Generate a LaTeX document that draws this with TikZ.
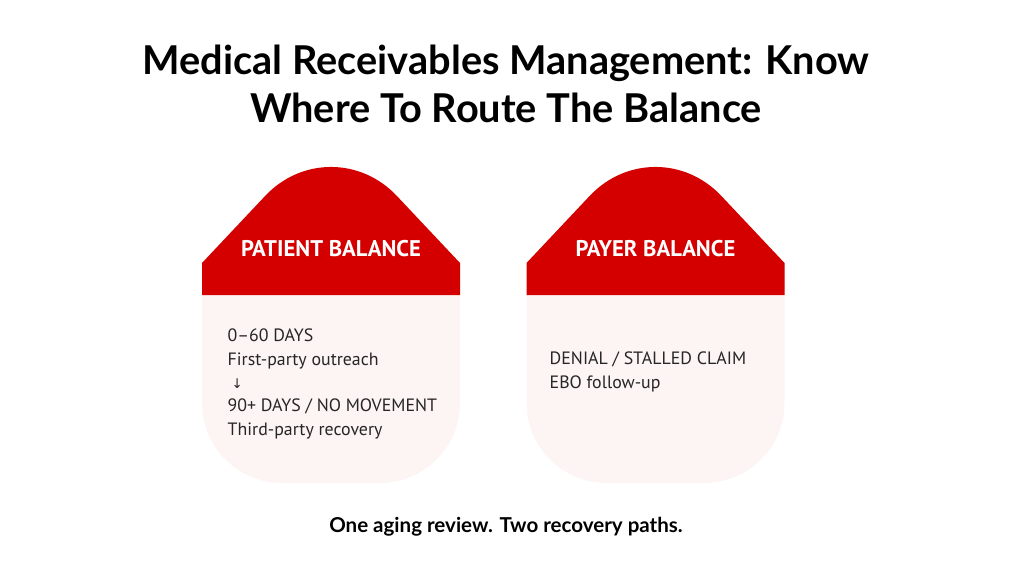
\documentclass[tikz,border=0pt]{standalone}
\usepackage{fontspec}
\setmainfont{PT Sans}
\newfontfamily\titlefont{Lato}
\definecolor{hred}{HTML}{D40000}
\definecolor{bodyc}{HTML}{FDF5F3}
\begin{document}
\begin{tikzpicture}[x=0.75pt,y=-0.75pt,
  head/.style={fill=hred,draw=none},
  body/.style={fill=bodyc,draw=none},
  htext/.style={text=white,font=\fontsize{17}{20}\selectfont\bfseries},
  btext/.style={anchor=west,align=left,font=\fontsize{13.4}{17.5}\selectfont,text=black!85}]
\useasboundingbox (0,0) rectangle (1012,569);
\foreach \cx/\nm in {331/L,655.5/R}{
  \path[body] (\cx-129,280)[rounded corners=60]--(\cx-129,483)--(\cx+129,483)[sharp corners]--(\cx+129,280)--cycle;
  \path[head] (\cx-129,295)--(\cx-129,263)[rounded corners=72]--(\cx,126)[sharp corners]--(\cx+129,263)--(\cx+129,295)--cycle;
}
\node[font=\titlefont\fontsize{29.8}{36}\selectfont\bfseries,align=center] (title) at (506,84) {Medical Receivables Management: Know\\Where To Route The Balance};
\node[htext] (ph) at (331,249) {PATIENT BALANCE};
\node[htext] (yh) at (655.5,249) {PAYER BALANCE};
\node[btext] (pt) at (223,384) {0–60 DAYS\\First-party outreach\\\hspace{3pt}\fontspec{DejaVu Sans}\fontsize{10}{17.5}\selectfont↓\\90+ DAYS / NO MOVEMENT\\Third-party recovery};
\node[btext] (yt) at (545,372) {DENIAL / STALLED CLAIM\\EBO follow-up};
\node[font=\titlefont\fontsize{15.4}{18}\selectfont\bfseries] (foot) at (506,527) {One aging review. Two recovery paths.};
\end{tikzpicture}
\end{document}
